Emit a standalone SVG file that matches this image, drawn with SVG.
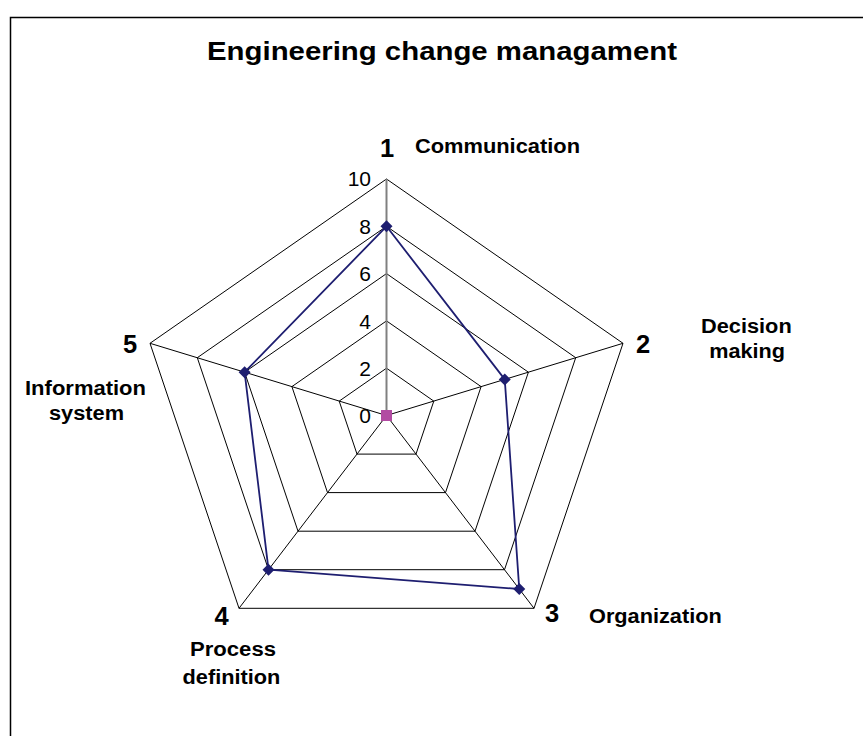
<svg xmlns="http://www.w3.org/2000/svg" width="863" height="736" viewBox="0 0 863 736">
<style>
.grid{fill:none;stroke:#000;stroke-width:1}
.spoke{stroke:#000;stroke-width:1}
.vaxis{stroke:#808080;stroke-width:2}
.tick{font-family:"Liberation Sans",Arial,sans-serif;font-size:21px;fill:#000;text-anchor:end}
.cat{font-family:"Liberation Sans",Arial,sans-serif;font-size:20px;font-weight:bold;fill:#000}
.num{font-family:"Liberation Sans",Arial,sans-serif;font-size:25.5px;font-weight:bold;fill:#000;text-anchor:middle}
.title{font-family:"Liberation Sans",Arial,sans-serif;font-size:25.5px;font-weight:bold;fill:#000}
.series{fill:none;stroke:#1e1e70;stroke-width:1.8;stroke-linejoin:round}
.marker{fill:#1e1e70}
</style>
<defs>
<path id="dia" d="M0,-6 L6,0 L0,6 L-6,0 Z"/>
</defs>
<rect width="863" height="736" fill="#fff"/>
<g id="frame">
<path d="M10.5,740 L10.5,17.5 L870,17.5" fill="none" stroke="#000" stroke-width="1.5"/>
</g>
<g id="title">
<text class="title" x="207" y="60" textLength="470" lengthAdjust="spacingAndGlyphs">Engineering change managament</text>
</g>
<g id="grid">
<polygon class="grid" points="386.5,179 623,343.3 534,608.3 239,608.3 150,343.3"/>
<polygon class="grid" points="386.5,226.3 575.7,357.7 504.5,569.7 268.5,569.7 197.3,357.7"/>
<polygon class="grid" points="386.5,273.6 528.4,372.2 475,531.2 298,531.2 244.6,372.2"/>
<polygon class="grid" points="386.5,320.9 481.1,386.6 445.5,492.6 327.5,492.6 291.9,386.6"/>
<polygon class="grid" points="386.5,368.2 433.8,401.1 416,454.1 357,454.1 339.2,401.1"/>
</g>
<g id="connectors">
<line class="spoke" x1="386.5" y1="415.5" x2="623" y2="343.3"/>
<line class="spoke" x1="386.5" y1="415.5" x2="534" y2="608.3"/>
<line class="spoke" x1="386.5" y1="415.5" x2="239" y2="608.3"/>
<line class="spoke" x1="386.5" y1="415.5" x2="150" y2="343.3"/>
<line class="vaxis" x1="386.5" y1="415.5" x2="386.5" y2="179"/>
</g>
<g id="ticks">
<text class="tick" x="371" y="186">10</text>
<text class="tick" x="371" y="233.5">8</text>
<text class="tick" x="371" y="281">6</text>
<text class="tick" x="371" y="328.5">4</text>
<text class="tick" x="371" y="376">2</text>
<text class="tick" x="371" y="423">0</text>
</g>
<g id="axis1">
<text class="num" x="387" y="156.7">1</text>
<text class="cat" x="415" y="153.3" textLength="165" lengthAdjust="spacingAndGlyphs">Communication</text>
</g>
<g id="axis2">
<text class="num" x="643" y="353.3">2</text>
<text class="cat" x="701" y="333.3" textLength="90.7" lengthAdjust="spacingAndGlyphs">Decision</text>
<text class="cat" x="709.3" y="358" textLength="75.7" lengthAdjust="spacingAndGlyphs">making</text>
</g>
<g id="axis3">
<text class="num" x="552" y="622.3">3</text>
<text class="cat" x="589" y="622.7" textLength="132.7" lengthAdjust="spacingAndGlyphs">Organization</text>
</g>
<g id="axis4">
<text class="num" x="221.5" y="624.5">4</text>
<text class="cat" x="190" y="655.5" textLength="86" lengthAdjust="spacingAndGlyphs">Process</text>
<text class="cat" x="182.6" y="684" textLength="97.7" lengthAdjust="spacingAndGlyphs">definition</text>
</g>
<g id="axis5">
<text class="num" x="130" y="352.7">5</text>
<text class="cat" x="25" y="395" textLength="121" lengthAdjust="spacingAndGlyphs">Information</text>
<text class="cat" x="49" y="420" textLength="75" lengthAdjust="spacingAndGlyphs">system</text>
</g>
<g id="series1">
<polygon class="series" points="386.5,226.3 504.75,379.4 519.25,589 268.5,569.7 244.6,372.2"/>
<use href="#dia" class="marker" x="386.5" y="226.3"/>
<use href="#dia" class="marker" x="504.75" y="379.4"/>
<use href="#dia" class="marker" x="519.25" y="589"/>
<use href="#dia" class="marker" x="268.5" y="569.7"/>
<use href="#dia" class="marker" x="244.6" y="372.2"/>
</g>
<g id="series2">
<rect x="381" y="410" width="11" height="11" fill="#b24ba2"/>
</g>
</svg>
